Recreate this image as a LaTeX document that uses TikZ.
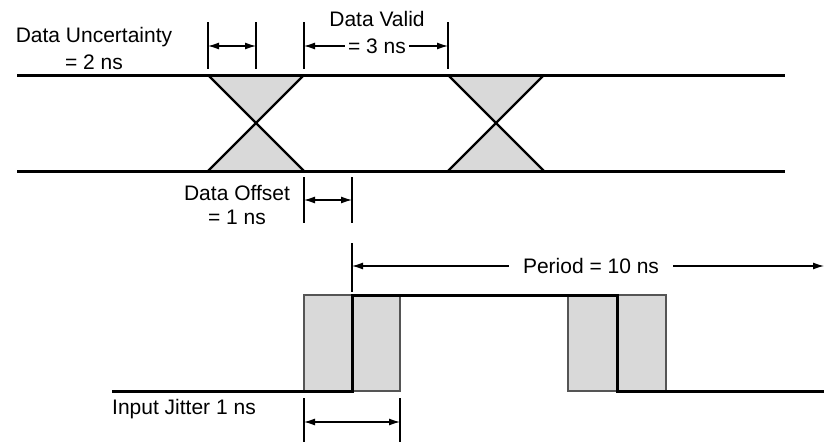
\documentclass[tikz,border=0pt]{standalone}
\usepackage{fontspec}
\setmainfont{Liberation Sans}
\usetikzlibrary{arrows.meta}
\definecolor{jgray}{HTML}{D9D9D9}
\definecolor{edgegray}{HTML}{555555}
\tikzset{
  signal/.style={line width=3pt, line cap=butt, line join=miter},
  diag/.style={line width=2.4pt, line cap=butt},
  tick/.style={line width=1.2pt},
  dim/.style={line width=1.2pt, -{Latex[length=11pt,width=7pt]}},
  dimboth/.style={line width=1.2pt, {Latex[length=11pt,width=7pt]}-{Latex[length=11pt,width=7pt]}},
  jbox/.style={fill=jgray, draw=edgegray, line width=1.5pt},
  xfill/.style={fill=jgray},
  lbl/.style={inner sep=0pt, font=\fontsize{21}{25}\selectfont}
}
\begin{document}
\begin{tikzpicture}[x=1pt,y=-1pt]
\useasboundingbox (0,0) rectangle (824,442);

% ---- eye diagram: shaded crossings ----
\foreach \l/\c/\r [count=\i] in {208/256/304, 448/496/544}{
  \coordinate (tl\i) at (\l,75);
  \coordinate (tr\i) at (\r,75);
  \coordinate (bl\i) at (\l,171);
  \coordinate (br\i) at (\r,171);
  \coordinate (cx\i) at (\c,123);
  \path[xfill] (tl\i) -- (tr\i) -- (cx\i) -- cycle;
  \path[xfill] (bl\i) -- (br\i) -- (cx\i) -- cycle;
  \draw[diag] (tl\i) -- (br\i);
  \draw[diag] (tr\i) -- (bl\i);
}
\coordinate (topL) at (17,75);
\coordinate (topR) at (785,75);
\coordinate (botL) at (17,171);
\coordinate (botR) at (785,171);
\draw[signal] (topL) -- (topR);
\draw[signal] (botL) -- (botR);

% ---- Data Uncertainty ----
\coordinate (u1t) at (208,22); \coordinate (u1b) at (208,69);
\coordinate (u2t) at (256,22); \coordinate (u2b) at (256,69);
\draw[tick] (u1t) -- (u1b);
\draw[tick] (u2t) -- (u2b);
\coordinate (ua) at (208,46); \coordinate (ub) at (256,46);
\draw[dimboth] (ua) -- (ub);
\node[lbl] (unc1) at (94,37) {Data Uncertainty};
\node[lbl] (unc2) at (94,62) {= 2 ns};

% ---- Data Valid ----
\coordinate (v1t) at (304,22); \coordinate (v1b) at (304,69);
\coordinate (v2t) at (448,22); \coordinate (v2b) at (448,69);
\draw[tick] (v1t) -- (v1b);
\draw[tick] (v2t) -- (v2b);
\node[lbl] (val1) at (377,19) {Data Valid};
\node[lbl, inner xsep=3pt] (val2) at (377,46) {= 3 ns};
\coordinate (va) at (304,46); \coordinate (vb) at (448,46);
\draw[dim] (val2.west) -- (va);
\draw[dim] (val2.east) -- (vb);

% ---- Data Offset ----
\coordinate (o1t) at (304,177); \coordinate (o1b) at (304,223);
\coordinate (o2t) at (352,177); \coordinate (o2b) at (352,223);
\draw[tick] (o1t) -- (o1b);
\draw[tick] (o2t) -- (o2b);
\coordinate (oa) at (304,200); \coordinate (ob) at (352,200);
\draw[dimboth] (oa) -- (ob);
\node[lbl] (off1) at (237,193) {Data Offset};
\node[lbl] (off2) at (237,217) {= 1 ns};

% ---- Period ----
\coordinate (pt) at (352,243); \coordinate (pb) at (352,292);
\draw[tick] (pt) -- (pb);
\node[lbl, inner xsep=14pt] (per) at (591,266) {Period = 10 ns};
\coordinate (pa) at (352,266); \coordinate (pe) at (824,266);
\draw[dim] (per.west) -- (pa);
\draw[dim] (per.east) -- (pe);

% ---- clock with jitter ----
\coordinate (j1a) at (304,295); \coordinate (j1b) at (400,391);
\coordinate (j2a) at (568,295); \coordinate (j2b) at (666,391);
\draw[jbox] (j1a) rectangle (j1b);
\draw[jbox] (j2a) rectangle (j2b);
\coordinate (c0) at (112,391);
\coordinate (c1) at (352,391);
\coordinate (c2) at (352,295);
\coordinate (c3) at (617,295);
\coordinate (c4) at (617,391);
\coordinate (c5) at (824,391);
\draw[signal] (c0) -- (c1) -- (c2) -- (c3) -- (c4) -- (c5);

% ---- Input Jitter ----
\coordinate (i1t) at (304,398); \coordinate (i1b) at (304,442);
\coordinate (i2t) at (400,398); \coordinate (i2b) at (400,442);
\draw[tick] (i1t) -- (i1b);
\draw[tick] (i2t) -- (i2b);
\coordinate (ia) at (304,422); \coordinate (ib) at (400,422);
\draw[dimboth] (ia) -- (ib);
\node[lbl, anchor=west] (jit) at (112,409) {Input Jitter 1 ns};
\end{tikzpicture}
\end{document}
